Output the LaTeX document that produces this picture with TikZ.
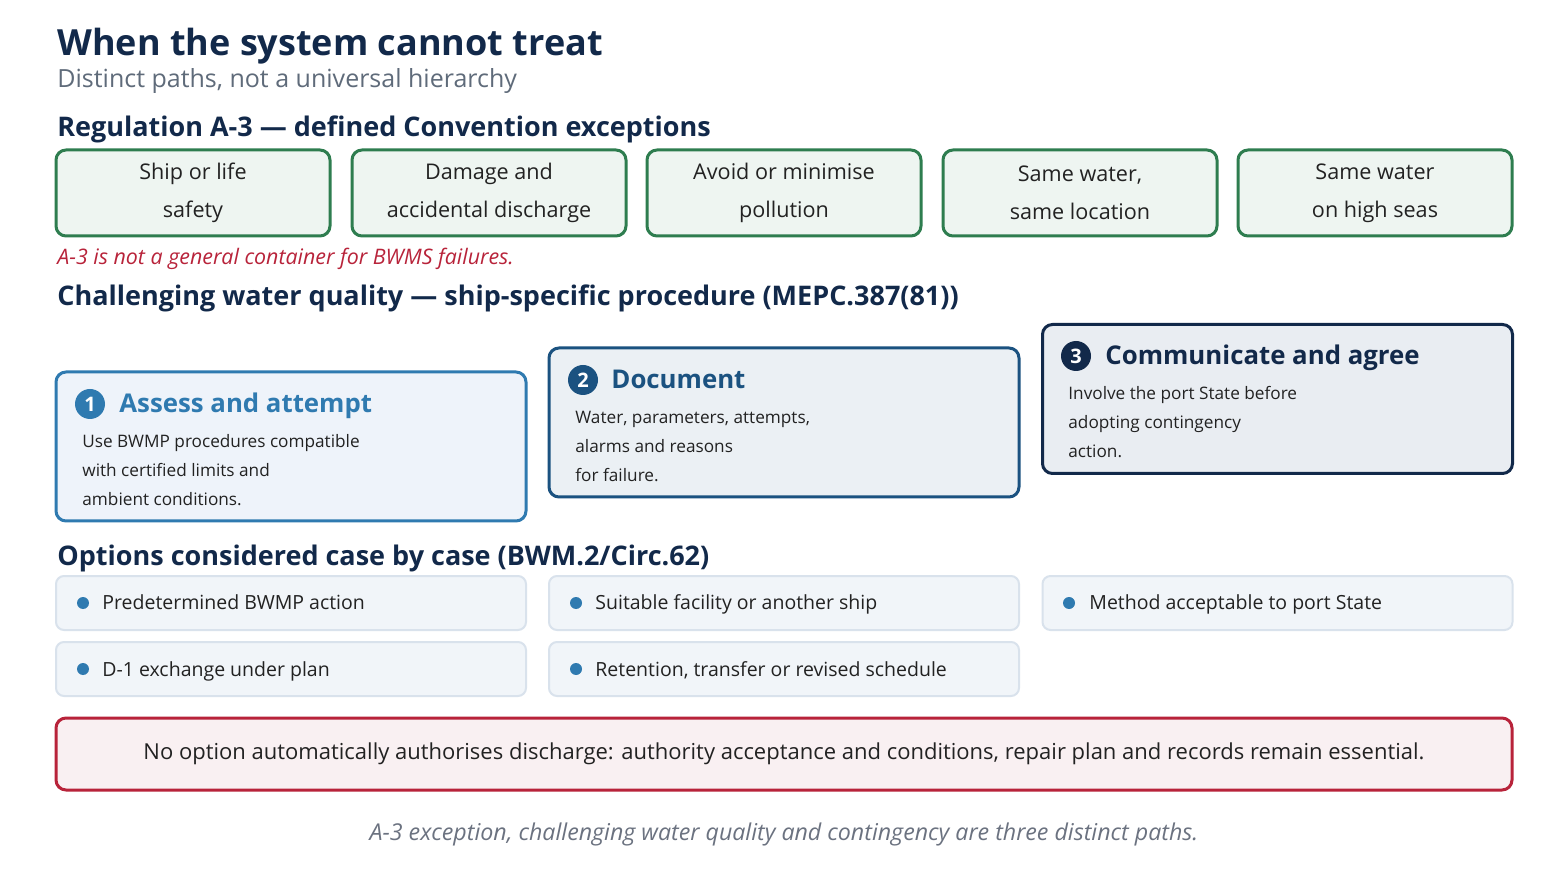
\documentclass[tikz,border=0pt]{standalone}
\usepackage{fontspec}
\setmainfont{Open Sans}
\usetikzlibrary{positioning}

\definecolor{navy}{HTML}{12294A}
\definecolor{subgray}{HTML}{5F6B7A}
\definecolor{bodytxt}{HTML}{222222}
\definecolor{exgreen}{HTML}{2E7D4F}
\definecolor{exfill}{HTML}{EEF5F1}
\definecolor{warnred}{HTML}{B8233A}
\definecolor{warnfill}{HTML}{F9F0F2}
\definecolor{blueA}{HTML}{2F7AB0}
\definecolor{fillA}{HTML}{EEF3FA}
\definecolor{blueB}{HTML}{1B5280}
\definecolor{fillB}{HTML}{EBF0F4}
\definecolor{fillC}{HTML}{E9EDF2}
\definecolor{optline}{HTML}{D9E2EC}
\definecolor{optfill}{HTML}{F1F5F9}
\definecolor{footgray}{HTML}{6B7280}

\tikzset{
head/.style={anchor=base west,inner sep=0pt,text=navy,
font=\bfseries\fontsize{13.5}{13.5}\selectfont},
exc/.style={draw=exgreen,fill=exfill,line width=1.5pt,
rounded corners=5pt,minimum width=137pt,minimum height=43pt,
align=center,text=bodytxt,font=\fontsize{10.8}{19}\selectfont},
stepbox/.style={rounded corners=5pt,line width=1.5pt,
minimum width=235pt,minimum height=74.5pt},
num/.style={circle,inner sep=0pt,minimum size=15pt,text=white,
font=\bfseries\fontsize{10}{10}\selectfont},
steptitle/.style={anchor=base west,inner sep=0pt,
font=\bfseries\fontsize{12.9}{12.9}\selectfont},
stepbody/.style={anchor=base west,inner sep=0pt,align=left,
text=bodytxt,font=\fontsize{8.6}{14.5}\selectfont},
opt/.style={draw=optline,fill=optfill,line width=1pt,
rounded corners=4pt,minimum width=235pt,minimum height=27pt},
dot/.style={circle,fill=blueA,inner sep=0pt,minimum size=6pt},
opttxt/.style={anchor=base west,inner sep=0pt,text=bodytxt,
font=\fontsize{9.75}{9.75}\selectfont}
}

\begin{document}
\begin{tikzpicture}[x=0.5pt,y=-0.5pt]
\useasboundingbox[fill=white] (0,0) rectangle (1568,876);

% titles
\node[anchor=base west,inner sep=0pt,text=navy,
font=\bfseries\fontsize{18}{18}\selectfont](title) at (57,56){When the system cannot treat};
\node[anchor=base west,inner sep=0pt,text=subgray,
font=\fontsize{12.5}{12.5}\selectfont](subtitle) at (57,88){Distinct paths, not a universal hierarchy};

% regulation A-3
\node[head](regA3) at (57,137){Regulation A-3 — defined Convention exceptions};

\node[exc](ship) at (193,193){Ship or life\\safety};
\node[exc](damage) at (489,193){Damage and\\accidental discharge};
\node[exc](avoid) at (784,193){Avoid or minimise\\pollution};
\node[exc](samewater) at (1080,193){Same water,\\same location};
\node[exc](highseas) at (1375,193){Same water\\on high seas};

\node[anchor=base west,inner sep=0pt,text=warnred,
font=\itshape\fontsize{10.7}{10.7}\selectfont](a3note) at (57,265){A-3 is not a general container for BWMS failures.};

% challenging water quality
\node[head](cwq) at (57,306){Challenging water quality — ship-specific procedure (MEPC.387(81))};

\node[stepbox,draw=blueA,fill=fillA](assess) at (291,446.5){};
\node[num,fill=blueA](n1) at (90,404){1};
\node[steptitle,text=blueA](t1) at (119,413){Assess and attempt};
\node[stepbody](b1) at (82,506){Use BWMP procedures compatible\\with certified limits and\\ambient conditions.};

\node[stepbox,draw=blueB,fill=fillB](document) at (784,422.5){};
\node[num,fill=blueB](n2) at (583,380){2};
\node[steptitle,text=blueB](t2) at (611,389){Document};
\node[stepbody](b2) at (575,482){Water, parameters, attempts,\\alarms and reasons\\for failure.};

\node[stepbox,draw=navy,fill=fillC](agree) at (1277.5,399){};
\node[num,fill=navy](n3) at (1076,356){3};
\node[steptitle,text=navy](t3) at (1105,365){Communicate and agree};
\node[stepbody](b3) at (1068,458){Involve the port State before\\adopting contingency\\action.};

% options
\node[head](opts) at (57,566){Options considered case by case (BWM.2/Circ.62)};

\node[opt](o1) at (291,603){};
\node[dot] at (83,603){};
\node[opttxt] at (102,610){Predetermined BWMP action};
\node[opt](o2) at (784,603){};
\node[dot] at (576,603){};
\node[opttxt] at (595,610){Suitable facility or another ship};
\node[opt](o3) at (1277.5,603){};
\node[dot] at (1069,603){};
\node[opttxt] at (1089,610){Method acceptable to port State};
\node[opt](o4) at (291,669){};
\node[dot] at (83,669){};
\node[opttxt] at (102,676){D-1 exchange under plan};
\node[opt](o5) at (784,669){};
\node[dot] at (576,669){};
\node[opttxt] at (595,676){Retention, transfer or revised schedule};

% warning
\node[draw=warnred,fill=warnfill,line width=1.5pt,rounded corners=5pt,
minimum width=728pt,minimum height=36pt,text=bodytxt,
font=\fontsize{11}{11}\selectfont](warn) at (784,754){No option automatically authorises discharge: authority acceptance and conditions, repair plan and records remain essential.};

\node[text=footgray,font=\itshape\fontsize{11.6}{11.6}\selectfont](foot) at (784,834){A-3 exception, challenging water quality and contingency are three distinct paths.};
\end{tikzpicture}
\end{document}
